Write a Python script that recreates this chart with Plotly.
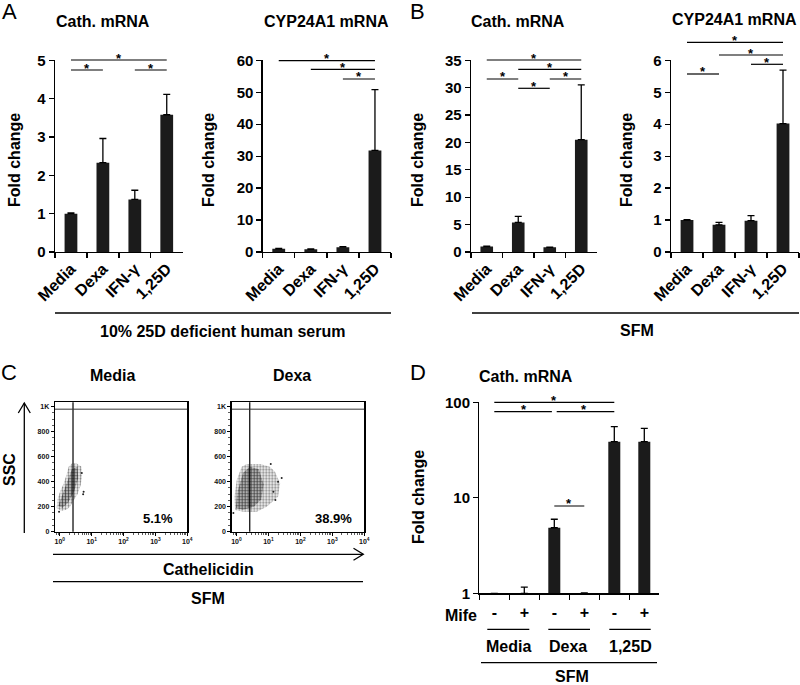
import plotly.graph_objects as go

W, H = 800, 685
FONT = "Liberation Sans, Arial, Helvetica, sans-serif"
BAR = "#1b1b1b"

# ---------------- data ----------------
categories = ["Media", "Dexa", "IFN-γ", "1,25D"]

a_cath_mean = [1.0, 2.33, 1.37, 3.58]
a_cath_err = [0.02, 0.63, 0.24, 0.53]
a_cyp_mean = [1.0, 0.85, 1.5, 31.8]
a_cyp_err = [0.1, 0.1, 0.2, 19.0]

b_cath_mean = [1.0, 5.4, 0.85, 20.5]
b_cath_err = [0.05, 1.1, 0.05, 10.0]
b_cyp_mean = [1.0, 0.85, 0.98, 4.02]
b_cyp_err = [0.01, 0.08, 0.16, 1.67]

d_categories = ["Media -", "Media +", "Dexa -", "Dexa +", "1,25D -", "1,25D +"]
d_mife = ["-", "+", "-", "+", "-", "+"]
d_groups = ["Media", "Dexa", "1,25D"]
d_cath_mean = [1.0, 1.0, 4.86, 1.0, 38.7, 38.7]
d_cath_err = [0.0, 0.16, 1.1, 0.01, 16.8, 14.7]

a_cath_ticks = [0, 1, 2, 3, 4, 5]
a_cyp_ticks = [0, 10, 20, 30, 40, 50, 60]
b_cath_ticks = [0, 5, 10, 15, 20, 25, 30, 35]
b_cyp_ticks = [0, 1, 2, 3, 4, 5, 6]
d_ticks = [1, 10, 100]

flow_x_ticks = [1, 10, 100, 1000, 10000]
flow_x_text = ["10<sup>0</sup>", "10<sup>1</sup>", "10<sup>2</sup>", "10<sup>3</sup>", "10<sup>4</sup>"]
flow_y_ticks = [0, 200, 400, 600, 800, 1000]
flow_y_text = ["0", "200", "400", "600", "800", "1K"]
flow_percent = ["5.1%", "38.9%"]
flow_gate_x = 2.6
flow_gate_y = 980

# outlines of the dot clouds
media_cloud_x = [0.80, 0.85, 1.05, 1.3, 1.6, 1.9, 2.4, 3.4, 4.8, 5.0, 4.5, 3.6, 2.7, 2.1, 1.6, 1.1]
media_cloud_y = [190, 260, 330, 380, 450, 520, 545, 545, 520, 440, 370, 300, 250, 200, 175, 165]
media_core_x = [0.9, 1.2, 1.7, 2.4, 3.6, 3.8, 2.8, 1.8, 1.2]
media_core_y = [210, 300, 400, 500, 520, 430, 320, 230, 190]
media_stray_x = [5.4, 5.6, 0.95, 4.9]
media_stray_y = [300, 320, 160, 470]

dexa_cloud_x = [0.90, 0.86, 1.02, 1.46, 2.1, 5.5, 11, 16, 23, 20, 8.8, 4.3, 1.64]
dexa_cloud_y = [174, 280, 414, 520, 542, 542, 520, 480, 387, 280, 200, 160, 160]
dexa_core_x = [0.95, 1.1, 1.6, 2.6, 5.0, 7.0, 6.0, 3.5, 1.6]
dexa_core_y = [190, 330, 470, 520, 500, 380, 260, 200, 175]
dexa_stray_x = [20, 14.3, 16.5, 11.8, 26, 0.8]
dexa_stray_y = [400, 320, 254, 542, 430, 150]


def fx(p):
    return p / W


def fy(p):
    return 1 - p / H


fig = go.Figure()
shapes = []
annotations = []
layout = {}

TICKFONT = dict(family=FONT, size=15, color="black", weight="bold")
XTICKFONT = dict(family=FONT, size=16, color="black", weight="bold")


def bar_panel(n, xl, xr, yt, yb, cats, means, errs, yrange, ticks, ylog=False, ticktext=None):
    xa = "xaxis" if n == 1 else f"xaxis{n}"
    ya = "yaxis" if n == 1 else f"yaxis{n}"
    xs = "x" if n == 1 else f"x{n}"
    ys = "y" if n == 1 else f"y{n}"
    layout[xa] = dict(
        domain=[fx(xl), fx(xr)], anchor=ys, type="category",
        categoryorder="array", categoryarray=cats,
        showline=True, linecolor="black", linewidth=1.3,
        ticks="outside", ticklen=5, tickwidth=1.3, tickcolor="black",
        tickson="boundaries", showgrid=False, zeroline=False,
        tickfont=XTICKFONT, automargin=False, fixedrange=True,
    )
    if ticktext is None:
        layout[xa].update(tickangle=-45)
    else:
        layout[xa].update(tickmode="array", tickvals=cats, ticktext=ticktext,
                          tickangle=0, ticklabelstandoff=4)
    layout[ya] = dict(
        domain=[fy(yb), fy(yt)], anchor=xs, range=yrange,
        tickmode="array", tickvals=ticks,
        showline=True, linecolor="black", linewidth=1.3,
        ticks="outside", ticklen=5, tickwidth=1.3, tickcolor="black",
        showgrid=False, zeroline=False, tickfont=TICKFONT,
        automargin=False, fixedrange=True,
    )
    if ylog:
        layout[ya].update(type="log")
    fig.add_trace(go.Bar(
        x=cats, y=means, xaxis=xs, yaxis=ys,
        marker=dict(color=BAR, line=dict(width=0)),
        error_y=dict(type="data", symmetric=False, array=errs,
                     arrayminus=[0] * len(errs), color="black",
                     thickness=1.3, width=3.5),
        showlegend=False, hoverinfo="skip",
    ))
    return xs


def sig(xs, cats, c0, c1, ypx, trim0=0.0, trim1=0.0):
    i0, i1 = cats.index(c0), cats.index(c1)
    shapes.append(dict(type="line", xref=xs, yref="paper",
                       x0=i0 + trim0, x1=i1 - trim1, y0=fy(ypx), y1=fy(ypx),
                       line=dict(color="black", width=1.2)))
    annotations.append(dict(text="*", xref=xs, yref="paper", x=(i0 + i1) / 2,
                            y=fy(ypx - 2), xanchor="center", yanchor="middle",
                            showarrow=False,
                            font=dict(family=FONT, size=13, color="black", weight="bold")))


def txt(text, x, y, size=16, bold=True, angle=0, xanchor="center", yanchor="middle"):
    annotations.append(dict(text=text, x=fx(x), y=fy(y), xref="paper", yref="paper",
                            showarrow=False, textangle=angle, xanchor=xanchor,
                            yanchor=yanchor,
                            font=dict(family=FONT, size=size, color="black",
                                      weight="bold" if bold else "normal")))


def hline(x0, x1, y, w=1.3):
    shapes.append(dict(type="line", xref="paper", yref="paper", x0=fx(x0), x1=fx(x1),
                       y0=fy(y), y1=fy(y), line=dict(color="black", width=w)))


def vline(x, y0, y1, w=1.3):
    shapes.append(dict(type="line", xref="paper", yref="paper", x0=fx(x), x1=fx(x),
                       y0=fy(y0), y1=fy(y1), line=dict(color="black", width=w)))


def path(pts, w=1.3):
    d = "M " + " L ".join(f"{fx(a):.5f},{fy(b):.5f}" for a, b in pts)
    shapes.append(dict(type="path", xref="paper", yref="paper", path=d,
                       line=dict(color="black", width=w)))


TOP, BOT = 60.3, 252.0

# ---------------- Panel A ----------------
x1 = bar_panel(1, 55, 182.7, TOP, BOT, categories, a_cath_mean, a_cath_err, [0, 5], a_cath_ticks)
sig(x1, categories, "Media", "1,25D", 60)
sig(x1, categories, "Media", "Dexa", 70)
sig(x1, categories, "IFN-γ", "1,25D", 70)

x2 = bar_panel(2, 262.7, 391, TOP, BOT, categories, a_cyp_mean, a_cyp_err, [0, 60], a_cyp_ticks)
sig(x2, categories, "Media", "1,25D", 60.7)
sig(x2, categories, "Dexa", "1,25D", 69.3)
sig(x2, categories, "IFN-γ", "1,25D", 79)

# ---------------- Panel B ----------------
x3 = bar_panel(3, 471, 597, TOP, BOT, categories, b_cath_mean, b_cath_err, [0, 35], b_cath_ticks)
sig(x3, categories, "Media", "1,25D", 60)
sig(x3, categories, "Dexa", "1,25D", 69.3)
sig(x3, categories, "Media", "Dexa", 79)
sig(x3, categories, "IFN-γ", "1,25D", 79)
sig(x3, categories, "Dexa", "IFN-γ", 88.3)

x4 = bar_panel(4, 671, 799, TOP, BOT, categories, b_cyp_mean, b_cyp_err, [0, 6], b_cyp_ticks)
sig(x4, categories, "Media", "1,25D", 42.3)
sig(x4, categories, "Dexa", "1,25D", 55)
sig(x4, categories, "IFN-γ", "1,25D", 64.3)
sig(x4, categories, "Media", "Dexa", 74)

# ---------------- Panel D ----------------
x7 = bar_panel(7, 479.3, 659.3, 402.3, 593.3, d_categories, d_cath_mean, d_cath_err,
               [0, 2], d_ticks, ylog=True, ticktext=d_mife)
sig(x7, d_categories, "Media -", "1,25D -", 402.3)
sig(x7, d_categories, "Media -", "Dexa -", 411.7, 0, 0.08)
sig(x7, d_categories, "Dexa -", "1,25D -", 411.7, 0.08, 0)
sig(x7, d_categories, "Dexa -", "Dexa +", 506)

# ---------------- Panel C (flow) ----------------
def flow_panel(n, xl, xr, cloud_x, cloud_y, core_x, core_y, stray_x, stray_y):
    xa, ya = f"xaxis{n}", f"yaxis{n}"
    xs, ys = f"x{n}", f"y{n}"
    small = dict(family=FONT, size=7, color="#111", weight="bold")
    layout[xa] = dict(
        domain=[fx(xl), fx(xr)], anchor=ys, type="log", range=[-0.15, 4.0],
        tickmode="array", tickvals=flow_x_ticks, ticktext=flow_x_text,
        showline=True, mirror=True, linecolor="black", linewidth=1.3,
        ticks="outside", ticklen=3, tickwidth=1, tickcolor="black",
        minor=dict(ticks="outside", ticklen=2, tickwidth=0.8, tickcolor="#333", dtick="D1"),
        showgrid=False, zeroline=False, tickfont=small, automargin=False, fixedrange=True,
    )
    layout[ya] = dict(
        domain=[fy(531.7), fy(402.3)], anchor=xs, range=[0, 1035],
        tickmode="array", tickvals=flow_y_ticks, ticktext=flow_y_text,
        showline=True, mirror=True, linecolor="black", linewidth=1.3,
        ticks="outside", ticklen=3, tickwidth=1, tickcolor="black",
        minor=dict(ticks="outside", ticklen=2, tickwidth=0.8, tickcolor="#333", dtick=50),
        showgrid=False, zeroline=False, tickfont=small, automargin=False, fixedrange=True,
    )
    for cx, cy, sz, sol in [(cloud_x, cloud_y, 3, 0.45), (core_x, core_y, 3, 0.7)]:
        fig.add_trace(go.Scatter(
            x=cx, y=cy, xaxis=xs, yaxis=ys, mode="lines", fill="toself",
            line=dict(width=0, color="rgba(0,0,0,0)"), fillcolor="rgba(0,0,0,0)",
            fillpattern=dict(shape=".", fgcolor="#000", bgcolor="rgba(0,0,0,0)",
                             size=sz, solidity=sol),
            showlegend=False, hoverinfo="skip"))
    fig.add_trace(go.Scatter(x=stray_x, y=stray_y, xaxis=xs, yaxis=ys, mode="markers",
                             marker=dict(size=2, color="#222"), showlegend=False,
                             hoverinfo="skip"))
    shapes.append(dict(type="line", xref=xs, yref=f"{ys} domain", x0=flow_gate_x,
                       x1=flow_gate_x, y0=0, y1=1, line=dict(color="black", width=1.2)))
    shapes.append(dict(type="line", xref=f"{xs} domain", yref=ys, x0=0, x1=1,
                       y0=flow_gate_y, y1=flow_gate_y, line=dict(color="#333", width=1)))


flow_panel(5, 55, 187.3, media_cloud_x, media_cloud_y, media_core_x, media_core_y,
           media_stray_x, media_stray_y)
flow_panel(6, 231.7, 364.3, dexa_cloud_x, dexa_cloud_y, dexa_core_x, dexa_core_y,
           dexa_stray_x, dexa_stray_y)

# ---------------- text & decorations ----------------
txt("A", 9, 11, size=22, bold=False)
txt("B", 417, 11, size=22, bold=False)
txt("C", 9, 372, size=22, bold=False)
txt("D", 418, 372, size=22, bold=False)

txt("Cath. mRNA", 103, 21)
txt("CYP24A1 mRNA", 326, 21)
txt("Cath. mRNA", 518, 21)
txt("CYP24A1 mRNA", 734, 19)
txt("Cath. mRNA", 526, 376)

for xc in (15, 209, 418, 627):
    txt("Fold change", xc, 160, angle=-90)
txt("Fold change", 418, 497, angle=-90)

hline(55, 391, 313)
txt("10% 25D deficient human serum", 222, 331)
hline(472, 799, 313)
txt("SFM", 637, 330)

# panel C decorations
txt("Media", 113, 375)
txt("Dexa", 292, 375)
txt(flow_percent[0], 158, 518, size=13)
txt(flow_percent[1], 333, 518, size=13)
vline(24.3, 533, 403)
path([(18.3, 413), (24.3, 403), (30.3, 413)])
txt("SSC", 9, 470, angle=-90)
hline(53, 363, 554.3)
path([(353.5, 548.3), (363.3, 554.3), (353.5, 560.3)])
txt("Cathelicidin", 208, 569.5)
hline(53, 363, 581.7)
txt("SFM", 208, 598.5)

# panel D decorations
txt("Mife", 479, 615, xanchor="right")
for (a, b), g, c in zip([(487.3, 529.3), (548.3, 590), (609.3, 650.7)], d_groups,
                        [508.3, 568.3, 630]):
    hline(a, b, 629.3)
    txt(g, c, 646)
hline(481, 657, 662.7)
txt("SFM", 571.7, 676.5)

fig.update_layout(
    width=W, height=H, margin=dict(l=0, r=0, t=0, b=0), autosize=False,
    paper_bgcolor="white", plot_bgcolor="white", showlegend=False,
    bargap=0.6, shapes=shapes, annotations=annotations,
    font=dict(family=FONT, color="black"),
    **layout,
)

fig.write_html(
    "out.html",
    config={"displayModeBar": False, "staticPlot": True},
    post_script="document.body.style.margin='0';document.body.style.overflow='hidden';",
)
